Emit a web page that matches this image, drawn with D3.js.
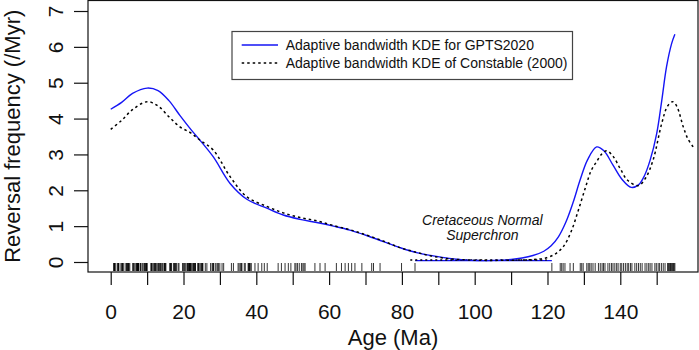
<!DOCTYPE html>
<html>
<head>
<meta charset="utf-8">
<script src="https://cdn.jsdelivr.net/npm/d3@7"></script>
<style>
  html, body { margin: 0; padding: 0; background: #fff; }
  svg { display: block; font-family: "Liberation Sans", Arial, Helvetica, sans-serif; }
</style>
</head>
<body>
<svg id="chart" width="699" height="350"></svg>
<script>
// ---- Data ----
const gptsAge = [0, 3, 6, 10, 13, 16, 19, 22, 24.5, 28.2, 32.8, 37.4, 42.9, 47.4, 52, 56.6, 61.2, 65.7, 70.3, 74.9, 79.5, 84, 88.6, 93, 97, 101, 105, 110, 113, 116, 119, 121, 123, 125, 127, 129, 131, 133.5, 135.5, 138, 140.5, 143, 145, 146.6, 148.2, 150, 151.4, 152.7, 154.1, 155];
const gptsVal = [4.26, 4.45, 4.70, 4.85, 4.78, 4.50, 4.09, 3.70, 3.40, 2.93, 2.19, 1.75, 1.50, 1.31, 1.19, 1.10, 1.00, 0.89, 0.74, 0.57, 0.40, 0.26, 0.17, 0.10, 0.06, 0.04, 0.045, 0.07, 0.11, 0.18, 0.30, 0.45, 0.70, 1.10, 1.65, 2.30, 2.85, 3.21, 3.10, 2.70, 2.30, 2.08, 2.15, 2.40, 2.84, 3.58, 4.51, 5.44, 6.09, 6.35];

const constAge = [0, 3, 6, 10, 13, 16, 19, 22, 24.5, 28.2, 32.8, 37.4, 42.9, 47.4, 52, 56.6, 61, 65.7, 70.3, 75, 79.5, 84, 88, 93, 100, 110, 116, 119.8, 122.5, 124.5, 126.5, 128.5, 130.5, 132, 133.5, 135, 136.3, 138, 140, 142, 145, 147, 149, 151.4, 153, 154.4, 155.5, 157.3, 158.5, 160];
const constVal = [3.70, 3.95, 4.25, 4.47, 4.35, 4.05, 3.77, 3.60, 3.40, 3.12, 2.38, 1.82, 1.55, 1.37, 1.24, 1.15, 1.02, 0.90, 0.75, 0.58, 0.40, 0.27, 0.17, 0.09, 0.05, 0.05, 0.07, 0.12, 0.25, 0.45, 0.85, 1.45, 2.10, 2.55, 2.80, 3.02, 3.10, 2.95, 2.60, 2.28, 2.13, 2.35, 2.84, 3.87, 4.35, 4.47, 4.35, 3.77, 3.45, 3.21];

// reversal ages (rug)
const reversalAges = [
  0.78, 0.99, 1.07, 1.17, 1.19, 1.78, 1.95, 2.13, 2.15, 2.58, 3.03, 3.12, 3.21, 3.33, 3.60, 4.19, 4.30, 4.49, 4.63, 4.80, 4.90, 5.00, 5.24, 6.03, 6.25, 6.44, 6.73, 7.14, 7.21, 7.25, 7.29, 7.45, 7.49, 7.53, 7.64, 7.70, 8.11, 8.25, 8.30, 8.77, 9.11, 9.31, 9.43, 9.65, 9.72, 9.79, 9.94, 9.98,
  11.06, 11.15, 11.19, 11.59, 11.66, 12.05, 12.17, 12.27, 12.47, 12.74, 13.03, 13.18, 13.36, 13.61, 13.74, 14.07, 14.16, 14.61, 14.78, 14.87, 15.03, 15.16, 16.27, 16.30, 16.47, 16.54, 16.72, 17.24, 17.53, 17.72, 17.74, 18.06, 18.52, 18.75, 19.72, 20.04, 20.21, 20.44, 20.71, 21.08, 21.16, 21.40, 21.48, 21.66, 21.69, 21.77, 21.94, 21.99, 22.27, 22.56, 22.75, 22.90, 23.03, 23.23, 23.30, 23.96, 24.00, 24.11, 24.47, 24.76, 24.98, 25.10, 25.26, 25.30, 25.99, 26.42, 27.44, 27.86, 28.09, 28.14, 28.28, 28.74, 29.18, 29.48, 29.53, 29.97, 30.59, 31.03, 33.16, 33.71, 35.00, 35.29, 35.71, 35.89, 36.05, 36.70, 36.97, 37.75, 37.87, 38.09, 38.16, 38.33, 38.62, 39.63,
  40.5, 41.5, 42.2, 43.0, 46.0, 46.9, 47.9, 48.8, 49.5, 50.6, 50.9, 51.3, 51.8, 52.4, 52.8, 53.1, 53.4, 56.1, 57.5, 58.9, 62.0, 63.4, 64.4, 65.3, 66.2, 67.1, 69.0, 71.7, 72.2, 74.0, 79.9, 83.6,
  121.2, 123.5, 123.9, 124.3, 124.8, 126.2, 127.1, 129.0, 129.4, 129.8, 130.8, 131.2, 131.6, 132.0, 132.5, 133.1, 134.0, 134.5, 135.0, 135.4, 135.8, 136.6, 137.1, 137.6, 138.0, 138.5, 139.0, 139.4, 140.0, 140.4, 140.9, 141.4, 141.9, 142.3, 142.8, 143.2, 144.0, 144.5, 145.0, 145.5, 146.0, 146.8, 147.3, 147.8, 148.2, 148.7, 149.5, 149.9, 150.4, 150.8, 151.3, 151.8, 152.3, 153.0, 153.2, 153.4, 153.6, 153.8, 154.0, 154.2, 154.4, 154.6, 154.8, 155.0
];

// CNS intervals [start, end, level]
const cnsGpts = [83.64, 121.2, 0.036];
const cnsConst = [82.3, 119.8, 0.055];

const xTicks = [0, 10, 20, 30, 40, 50, 60, 70, 80, 90, 100, 110, 120, 130, 140, 150];
const xLabels = [0, 20, 40, 60, 80, 100, 120, 140];
const yTicks = [0, 1, 2, 3, 4, 5, 6, 7];
const legendLabels = ["Adaptive bandwidth KDE for GPTS2020", "Adaptive bandwidth KDE of Constable (2000)"];
const cnsLabel = ["Cretaceous Normal", "Superchron"];
const xTitle = "Age (Ma)";
const yTitle = "Reversal frequency (/Myr)";

// ---- Layout ----
const svg = d3.select("#chart");
const L = 88, R = 698, T = 0.5, B = 272;
const x = d3.scaleLinear().domain([-6.24, 161.35]).range([L, R]);
const y = d3.scaleLinear().domain([-0.279, 7.293]).range([B, T]);

const blue = "#1515f5";

// rug
svg.append("g").selectAll("line").data(reversalAges).join("line")
  .attr("x1", d => x(d)).attr("x2", d => x(d))
  .attr("y1", 263).attr("y2", 271)
  .attr("stroke", "#000").attr("stroke-width", 0.8);

// CNS segments
svg.append("line")
  .attr("x1", x(cnsGpts[0])).attr("x2", x(cnsGpts[1]))
  .attr("y1", y(cnsGpts[2])).attr("y2", y(cnsGpts[2]))
  .attr("stroke", blue).attr("stroke-width", 1.3);
svg.append("line")
  .attr("x1", x(cnsConst[0])).attr("x2", x(cnsConst[1]))
  .attr("y1", y(cnsConst[2])).attr("y2", y(cnsConst[2]))
  .attr("stroke", "#000").attr("stroke-width", 1.5).attr("stroke-dasharray", "2,3");

// curves
const line = d3.line().x(d => x(d[0])).y(d => y(d[1])).curve(d3.curveCatmullRom.alpha(0.5));
svg.append("path").datum(d3.zip(gptsAge, gptsVal))
  .attr("d", line).attr("fill", "none").attr("stroke", blue).attr("stroke-width", 1.4);
svg.append("path").datum(d3.zip(constAge, constVal))
  .attr("d", line).attr("fill", "none").attr("stroke", "#000").attr("stroke-width", 1.5)
  .attr("stroke-dasharray", "2.5,3");

// box
svg.append("rect").attr("x", L).attr("y", T).attr("width", R - L).attr("height", B - T)
  .attr("fill", "none").attr("stroke", "#111").attr("stroke-width", 1.2);

// x axis
const xa = svg.append("g").attr("transform", `translate(0,${B})`)
  .call(d3.axisBottom(x).tickValues(xTicks).tickSize(13).tickSizeOuter(0).tickFormat(d => xLabels.includes(d) ? d : ""));
xa.select(".domain").remove();
xa.selectAll(".tick line").attr("stroke", "#111").attr("stroke-width", 1.2);
xa.selectAll(".tick text").attr("font-size", 21).attr("fill", "#111").attr("font-family", null).attr("dy", null).attr("y", 46.5);

// y axis
const ya = svg.append("g").attr("transform", `translate(${L},0)`)
  .call(d3.axisLeft(y).tickValues(yTicks).tickSize(14).tickSizeOuter(0));
ya.select(".domain").remove();
ya.selectAll(".tick line").attr("stroke", "#111").attr("stroke-width", 1.2);
ya.selectAll(".tick text").attr("font-size", 21).attr("fill", "#111").attr("font-family", null)
  .attr("x", null).attr("dy", null).attr("text-anchor", "middle")
  .attr("transform", "translate(-33,0) rotate(-90)").attr("y", 7.5);

// titles
svg.append("text").attr("x", (L + R) / 2).attr("y", 344.5).attr("text-anchor", "middle")
  .attr("font-size", 22).attr("fill", "#111").text(xTitle);
svg.append("text").attr("transform", `translate(19.5,${(T + B) / 2}) rotate(-90)`).attr("text-anchor", "middle")
  .attr("font-size", 22).attr("fill", "#111").text(yTitle);

// CNS label
svg.append("text").attr("x", x(102.1)).attr("y", 224.5).attr("text-anchor", "middle")
  .attr("font-size", 14).attr("font-style", "italic").attr("fill", "#111").text(cnsLabel[0]);
svg.append("text").attr("x", x(102.1)).attr("y", 239.5).attr("text-anchor", "middle")
  .attr("font-size", 14).attr("font-style", "italic").attr("fill", "#111").text(cnsLabel[1]);

// legend
const lg = svg.append("g");
lg.append("rect").attr("x", 232).attr("y", 31.5).attr("width", 340.5).attr("height", 48)
  .attr("fill", "#fff").attr("stroke", "#444").attr("stroke-width", 1.2);
const rows = [45, 63];
lg.append("line").attr("x1", 241.7).attr("x2", 278).attr("y1", rows[0]).attr("y2", rows[0])
  .attr("stroke", blue).attr("stroke-width", 1.4);
lg.append("line").attr("x1", 241.7).attr("x2", 278).attr("y1", rows[1]).attr("y2", rows[1])
  .attr("stroke", "#000").attr("stroke-width", 1.5).attr("stroke-dasharray", "2.5,3");
legendLabels.forEach((t, i) => {
  lg.append("text").attr("x", 285.7).attr("y", rows[i] + 5).attr("font-size", 14)
    .attr("fill", "#111").text(t);
});
</script>
</body>
</html>
